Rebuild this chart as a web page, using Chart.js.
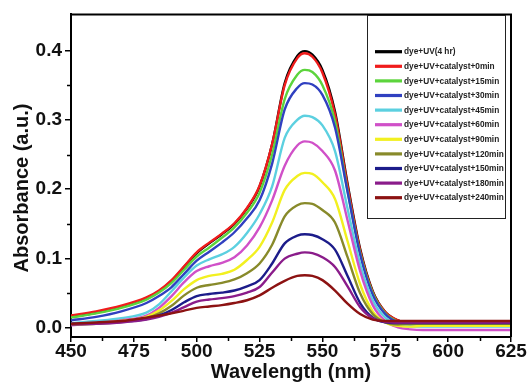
<!DOCTYPE html>
<html><head><meta charset="utf-8">
<script src="https://cdn.jsdelivr.net/npm/chart.js@4.4.1/dist/chart.umd.min.js"></script>
<style>html,body{margin:0;padding:0;background:#fff}#c{display:block}</style>
</head><body>
<canvas id="c" width="528" height="386"></canvas>
<script>
const wavelengths = [450,460,470,480,485,490,495,500,505,510,515,520,525,530,535,540,543,546,550,555,560,565,570,575,580,585,590,600,610,625];
const seriesLabels = ["dye+UV(4 hr)","dye+UV+catalyst+0min","dye+UV+catalyst+15min","dye+UV+catalyst+30min","dye+UV+catalyst+45min","dye+UV+catalyst+60min","dye+UV+catalyst+90min","dye+UV+catalyst+120min","dye+UV+catalyst+150min","dye+UV+catalyst+180min","dye+UV+catalyst+240min"];
const uv4hr  = [0.016,0.022,0.030,0.043,0.053,0.068,0.088,0.108,0.122,0.135,0.150,0.172,0.204,0.265,0.353,0.392,0.399,0.394,0.372,0.312,0.208,0.114,0.053,0.023,0.011,0.007,0.006,0.005,0.005,0.005];
const cat0   = [0.018,0.024,0.032,0.044,0.054,0.069,0.089,0.109,0.123,0.136,0.151,0.173,0.205,0.265,0.350,0.389,0.396,0.391,0.368,0.308,0.205,0.112,0.052,0.023,0.011,0.007,0.006,0.006,0.006,0.006];
const cat15  = [0.015,0.021,0.029,0.041,0.051,0.065,0.084,0.103,0.116,0.130,0.145,0.166,0.195,0.250,0.330,0.365,0.372,0.369,0.350,0.298,0.198,0.108,0.050,0.021,0.009,0.005,0.004,0.004,0.004,0.004];
const cat30  = [0.011,0.016,0.024,0.036,0.046,0.059,0.078,0.097,0.110,0.123,0.138,0.158,0.184,0.237,0.315,0.346,0.353,0.351,0.336,0.289,0.196,0.106,0.048,0.020,0.008,0.005,0.004,0.004,0.004,0.004];
const cat45  = [0.007,0.010,0.014,0.022,0.034,0.053,0.073,0.090,0.099,0.106,0.117,0.137,0.164,0.204,0.274,0.300,0.306,0.304,0.292,0.255,0.172,0.092,0.040,0.015,0.005,0.002,0.002,0.002,0.002,0.002];
const cat60  = [0.004,0.007,0.011,0.018,0.029,0.046,0.066,0.082,0.089,0.094,0.102,0.119,0.145,0.184,0.234,0.263,0.269,0.267,0.255,0.227,0.155,0.082,0.033,0.010,0.001,-0.002,-0.003,-0.003,-0.003,-0.003];
const cat90  = [0.005,0.007,0.010,0.016,0.025,0.039,0.056,0.069,0.075,0.078,0.084,0.098,0.117,0.152,0.199,0.219,0.2235,0.222,0.210,0.186,0.125,0.063,0.024,0.008,0.003,0.002,0.003,0.003,0.003,0.003];
const cat120 = [0.005,0.006,0.009,0.014,0.021,0.032,0.047,0.058,0.062,0.065,0.070,0.079,0.093,0.120,0.161,0.177,0.180,0.179,0.170,0.152,0.102,0.050,0.020,0.008,0.005,0.006,0.006,0.006,0.006,0.006];
const cat150 = [0.006,0.007,0.009,0.013,0.018,0.026,0.037,0.046,0.049,0.051,0.054,0.060,0.069,0.093,0.122,0.133,0.135,0.134,0.128,0.113,0.075,0.036,0.015,0.008,0.007,0.007,0.007,0.007,0.007,0.007];
const cat180 = [0.005,0.006,0.008,0.012,0.016,0.022,0.030,0.038,0.041,0.043,0.046,0.051,0.059,0.080,0.100,0.107,0.109,0.108,0.102,0.088,0.060,0.030,0.014,0.009,0.008,0.008,0.008,0.008,0.008,0.008];
const cat240 = [0.006,0.008,0.010,0.015,0.018,0.021,0.025,0.029,0.031,0.033,0.036,0.040,0.047,0.058,0.068,0.075,0.076,0.075,0.069,0.054,0.035,0.020,0.012,0.010,0.010,0.010,0.010,0.010,0.010,0.010];
const xTicks = [450,475,500,525,550,575,600,625];
const xMinor = [462.5,487.5,512.5,537.5,562.5,587.5,612.5];
const yTicks = [0.0,0.1,0.2,0.3,0.4];
const yMinor = [0.05,0.15,0.25,0.35];
const xTitle = "Wavelength (nm)";
const yTitle = "Absorbance (a.u.)";
const colors = ["#000000","#f01c1c","#5cd43c","#3040c0","#5cd0e0","#d050c8","#f2f020","#888a2a","#1c1c8a","#8a1c8a","#8c1212"];

const allSeries = [uv4hr,cat0,cat15,cat30,cat45,cat60,cat90,cat120,cat150,cat180,cat240];
const datasets = allSeries.map((s,i)=>({
  label: seriesLabels[i],
  data: s.map((v,j)=>({x:wavelengths[j], y:v})),
  borderColor: colors[i], backgroundColor: colors[i],
  borderWidth: 2.4, pointRadius: 0, fill:false,
  cubicInterpolationMode: 'monotone',
  order: allSeries.length - i
}));

const FONT = "'Liberation Sans', Arial, sans-serif";

const decor = {
  id:'decor',
  afterDraw(chart){
    const {ctx, chartArea:a, scales:{x,y}} = chart;
    ctx.save();
    ctx.strokeStyle='#000'; ctx.lineWidth=2;
    ctx.beginPath();
    ctx.moveTo(a.left-1, a.top); ctx.lineTo(a.right, a.top); ctx.lineTo(a.right, a.bottom);
    ctx.stroke();
    ctx.lineWidth=1.5;
    ctx.beginPath();
    yMinor.forEach(v=>{const p=Math.round(y.getPixelForValue(v))+0.5; ctx.moveTo(a.left-4,p); ctx.lineTo(a.left,p);});
    xMinor.forEach(v=>{const p=Math.round(x.getPixelForValue(v))+0.5; ctx.moveTo(p,a.bottom); ctx.lineTo(p,a.bottom+4);});
    ctx.stroke();
    // y title
    ctx.save();
    ctx.translate(22, 188); ctx.rotate(-Math.PI/2);
    ctx.font="bold 20px "+FONT; ctx.fillStyle='#111'; ctx.textAlign='center'; ctx.textBaseline='middle';
    ctx.fillText(yTitle,0,0);
    ctx.restore();
    // legend
    const L=367, R=505, T=15, B=218;
    ctx.fillStyle='#fff'; ctx.fillRect(L,T,R-L,B-T);
    ctx.lineWidth=1; ctx.strokeStyle='#222';
    ctx.strokeRect(L+0.5,T+0.5,R-L,B-T);
    ctx.font="bold 8.3px "+FONT; ctx.textBaseline='middle'; ctx.textAlign='left';
    chart.data.datasets.forEach((d,i)=>{
      const yy = 51.7 + i*14.6;
      ctx.strokeStyle=d.borderColor; ctx.lineWidth=3.2;
      ctx.beginPath(); ctx.moveTo(375,yy); ctx.lineTo(402,yy); ctx.stroke();
      ctx.fillStyle='#222'; ctx.fillText(d.label, 404, yy+0.5);
    });
    ctx.restore();
  }
};

new Chart(document.getElementById('c'), {
  type:'line',
  data:{datasets},
  options:{
    responsive:false, animation:false, devicePixelRatio:1,
    layout:{padding:{top:14,right:17,left:0,bottom:0}},
    plugins:{legend:{display:false}, tooltip:{enabled:false}},
    scales:{
      x:{type:'linear', min:450, max:625,
        afterBuildTicks:s=>{s.ticks=xTicks.map(v=>({value:v}));},
        afterFit:s=>{s.height=49;},
        grid:{drawOnChartArea:false, drawTicks:true, tickLength:5, color:'#000', lineWidth:1.5},
        border:{display:true, color:'#000', width:2},
        ticks:{padding:-2, color:'#111', maxRotation:0, autoSkip:false, font:{family:FONT, size:19, weight:'bold'}, callback:v=>String(v)},
        title:{display:true, text:xTitle, color:'#111', font:{family:FONT, size:20, weight:'bold'}, padding:{top:0,bottom:2}}
      },
      y:{type:'linear', min:-0.013, max:0.452,
        afterBuildTicks:s=>{s.ticks=yTicks.map(v=>({value:v}));},
        afterFit:s=>{s.width=71;},
        grid:{drawOnChartArea:false, drawTicks:true, tickLength:6, color:'#000', lineWidth:1.5},
        border:{display:true, color:'#000', width:2},
        ticks:{padding:3, color:'#111', autoSkip:false, font:{family:FONT, size:19, weight:'bold'}, callback:v=>v.toFixed(1)},
        title:{display:false}
      }
    }
  },
  plugins:[decor]
});
</script>
</body></html>
